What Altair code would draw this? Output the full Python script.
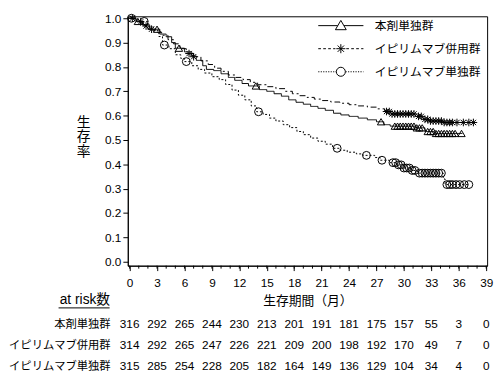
import altair as alt
import pandas as pd
import numpy as np

FONT = "Liberation Sans, Noto Sans CJK JP"

groups = ["本剤単独群", "イピリムマブ併用群", "イピリムマブ単独群"]

# Kaplan-Meier curves: times of drops and the survival after each drop
t_a = [0, 0.7, 1.5, 2.2, 3.3, 4.0, 4.6, 5.0, 6.0, 6.8, 7.3, 8.0, 8.4, 9.2, 10.0, 10.8, 11.5, 12.3, 13.0,
       14.2, 15.0, 15.8, 16.6, 17.4, 18.2, 19.0, 19.8, 20.6, 21.4, 22.3, 23.1, 24.0, 25.0, 26.0, 27.0,
       27.8, 28.5, 31.2, 32.3, 33.3, 36.4]
s_a = [1.0, 0.987, 0.973, 0.955, 0.935, 0.924, 0.90, 0.877, 0.862, 0.845, 0.827, 0.805, 0.79, 0.785,
       0.772, 0.757, 0.745, 0.732, 0.722, 0.707, 0.70, 0.69, 0.68, 0.665, 0.655, 0.647, 0.638, 0.63,
       0.622, 0.61, 0.603, 0.597, 0.59, 0.583, 0.575, 0.563, 0.557, 0.55, 0.535, 0.527, 0.527]

t_b = [0, 0.8, 1.4, 2.0, 2.8, 3.5, 4.2, 4.8, 5.5, 6.2, 7.0, 7.8, 8.6, 9.3, 10.0, 10.8, 11.6, 12.4,
       13.2, 14.0, 15.0, 16.0, 17.0, 17.8, 18.6, 19.4, 20.2, 21.0, 22.0, 23.0, 24.0, 25.0, 26.0, 27.0,
       27.9, 28.7, 31.4, 32.1, 32.7, 34.3, 37.8]
s_b = [1.0, 0.985, 0.968, 0.955, 0.943, 0.93, 0.912, 0.895, 0.875, 0.855, 0.842, 0.825, 0.81, 0.795,
       0.782, 0.767, 0.757, 0.748, 0.737, 0.727, 0.719, 0.711, 0.70, 0.69, 0.682, 0.675, 0.668, 0.662,
       0.656, 0.651, 0.645, 0.64, 0.635, 0.628, 0.617, 0.607, 0.597, 0.585, 0.578, 0.572, 0.572]

t_c = [0, 0.6, 1.0, 2.0, 2.6, 3.2, 3.6, 4.3, 5.0, 5.6, 6.0, 6.8, 7.5, 8.2, 9.0, 9.8, 10.5, 11.2, 11.9,
       12.6, 13.3, 13.9, 14.6, 15.3, 16.0, 16.8, 17.5, 18.3, 19.0, 19.8, 20.6, 21.4, 22.2, 23.0, 23.8,
       24.8, 25.5, 26.8, 27.4, 28.4, 29.2, 30.0, 30.8, 31.5, 34.3, 34.5, 37.1]
s_c = [1.0, 0.993, 0.987, 0.965, 0.95, 0.925, 0.89, 0.875, 0.85, 0.835, 0.822, 0.805, 0.79, 0.775,
       0.76, 0.748, 0.728, 0.705, 0.684, 0.665, 0.64, 0.616, 0.605, 0.59, 0.578, 0.563, 0.551, 0.535,
       0.522, 0.508, 0.495, 0.483, 0.466, 0.458, 0.45, 0.443, 0.437, 0.428, 0.417, 0.407, 0.398, 0.385,
       0.375, 0.364, 0.34, 0.317, 0.317]

# censoring times
cens_a = [0.9, 3.0, 5.4, 13.8, 27.5, 29.0, 29.3, 29.6, 29.9, 30.2, 30.5, 30.8, 31.1, 31.4, 31.7, 32.0,
          32.6, 32.9, 33.2, 33.5, 33.8, 34.1, 34.4, 34.7, 35.0, 35.3, 35.6, 36.3]
cens_b = [0.3, 1.2, 1.8, 2.4, 6.5, 7.0, 28.1, 28.4, 28.7, 29.0, 29.3, 29.6, 29.9, 30.2, 30.5, 30.8,
          31.1, 31.6, 31.9, 32.3, 32.6, 32.9, 33.2, 33.5, 33.8, 34.1, 34.4, 34.7, 35.0, 35.3, 35.8,
          36.5, 37.1, 37.6]
cens_c = [0.2, 1.6, 3.8, 6.2, 14.1, 22.7, 25.9, 27.6, 28.8, 29.1, 29.4, 29.7, 30.0, 30.3, 30.6, 30.9,
          31.2, 31.7, 32.0, 32.3, 32.6, 32.9, 33.2, 33.5, 33.8, 34.1, 34.7, 35.0, 35.3, 35.7, 36.1,
          36.6, 37.1]

# number at risk
risk_times = [0, 3, 6, 9, 12, 15, 18, 21, 24, 27, 30, 33, 36, 39]
risk_a = [316, 292, 265, 244, 230, 213, 201, 191, 181, 175, 157, 55, 3, 0]
risk_b = [314, 292, 265, 247, 226, 221, 209, 200, 198, 192, 170, 49, 7, 0]
risk_c = [315, 285, 254, 228, 205, 182, 164, 149, 136, 129, 104, 34, 4, 0]

x_ticks = [0, 3, 6, 9, 12, 15, 18, 21, 24, 27, 30, 33, 36, 39]
x_minor = list(range(0, 40))
y_ticks = [0.0, 0.1, 0.2, 0.3, 0.4, 0.5, 0.6, 0.7, 0.8, 0.9, 1.0]

curves = [(t_a, s_a), (t_b, s_b), (t_c, s_c)]
censors = [cens_a, cens_b, cens_c]
risks = [risk_a, risk_b, risk_c]

curve_df = pd.concat([pd.DataFrame({"group": g, "time": t, "surv": s})
                      for g, (t, s) in zip(groups, curves)], ignore_index=True)

cens_rows = []
for g, (t, s), cs in zip(groups, curves, censors):
    idx = np.searchsorted(np.array(t), np.array(cs), side="right") - 1
    cens_rows.append(pd.DataFrame({"group": g, "time": cs, "surv": np.array(s)[idx]}))
cens_df = pd.concat(cens_rows, ignore_index=True)

risk_df = pd.concat([pd.DataFrame({"group": g, "time": risk_times, "n": r})
                     for g, r in zip(groups, risks)], ignore_index=True)

minor_df = pd.DataFrame({"m": x_minor})

# ---------- styles ----------
PLOT_W, PLOT_H = 366, 254
X_TITLE = "生存期間（月）"
Y_TITLE = ["生", "存", "率"]
xscale = alt.Scale(domain=[-0.2, 39.1], nice=False, zero=False)
yscale = alt.Scale(domain=[-0.016, 1.008], nice=False, zero=False)

ASTER = "M0,-1L0,1M-1,0L1,0M-0.7,-0.7L0.7,0.7M-0.7,0.7L0.7,-0.7"
plot_shapes = ["triangle-up", ASTER, "circle"]
plot_sizes = [55, 60, 64]
line_dashes = [[1, 0], [6, 3, 2, 3], [2, 2]]


def segs(pattern, start, end):
    out, pos, k = [], start, 0
    while pos < end - 1e-9:
        ln = pattern[k % 2]
        if k % 2 == 0:
            e = min(pos + ln, end)
            out.append((pos, e))
        pos += ln
        k += 1
    return out


def line_path(pattern, inner):
    parts = []
    for a, b in segs(pattern, -1, -inner):
        parts.append(f"M{a:.3f},0L{b:.3f},0")
    for a, b in segs(pattern, inner, 1):
        parts.append(f"M{a:.3f},0L{b:.3f},0")
    return "".join(parts)


leg_a = line_path([2, 0], 0.14) + "M0,-0.23L0.24,0.18L-0.24,0.18Z"
leg_b = line_path([0.12, 0.1], 0.24) + ("M0,-0.2L0,0.2M-0.2,0L0.2,0M-0.14,-0.14L0.14,0.14"
                                         "M-0.14,0.14L0.14,-0.14")
leg_c = line_path([0.05, 0.06], 0.21) + "M0.2,0A0.2,0.2,0,1,1,-0.2,0A0.2,0.2,0,1,1,0.2,0Z"

x_axis = alt.Axis(values=x_ticks, tickSize=5, labelPadding=7, labelFontSize=12,
                  labelFlush=False, labelOverlap=False, labelBound=False,
                  titleFontSize=13, titlePadding=7, grid=False)
y_axis = alt.Axis(values=y_ticks, format=".1f", tickSize=5, labelPadding=2, labelFontSize=12,
                  labelOverlap=False,
                  title=Y_TITLE, titleAngle=0, titleX=-45.5, titleY=108,
                  titleAlign="center", titleBaseline="middle", titleLineHeight=15,
                  titleFontSize=14, grid=False)


def X(field):
    return alt.X(field, scale=xscale, axis=x_axis, title=X_TITLE)


def Y(field):
    return alt.Y(field, scale=yscale, axis=y_axis, title=Y_TITLE)


layers = []
for g, dash in zip(groups, line_dashes):
    layers.append(
        alt.Chart(curve_df[curve_df["group"] == g]).mark_line(
            interpolate="step-after", strokeWidth=1, color="black", strokeDash=dash
        ).encode(x=X("time:Q"), y=Y("surv:Q"))
    )

layers.append(alt.Chart(minor_df).mark_rule(color="black", strokeWidth=1).encode(
    x=X("m:Q"), y=alt.value(PLOT_H), y2=alt.value(PLOT_H + 3)
))

for g, shp, sz in zip(groups, plot_shapes, plot_sizes):
    layers.append(
        alt.Chart(cens_df[cens_df["group"] == g]).mark_point(
            shape=shp, filled=False, color="black", size=sz, strokeWidth=1, opacity=1
        ).encode(x=X("time:Q"), y=Y("surv:Q"))
    )

# legend-only layer: its points sit outside the x domain and are clipped away
layers.append(alt.Chart(cens_df).transform_calculate(off="-100").mark_point(
    filled=False, color="black", opacity=1, clip=True
).encode(
    x=X("off:Q"), y=Y("surv:Q"),
    shape=alt.Shape("group:N", scale=alt.Scale(domain=groups, range=[leg_a, leg_b, leg_c]),
                    legend=alt.Legend(title=None, orient="none", legendX=193.5, legendY=3,
                                      symbolSize=2116, symbolStrokeWidth=1,
                                      symbolStrokeColor="black", symbolFillColor="transparent",
                                      clipHeight=13, rowPadding=10.5,
                                      labelFontSize=12, labelOffset=11,
                                      padding=0, labelFont=FONT, labelColor="black")),
))

main = alt.layer(*layers).properties(width=PLOT_W, height=PLOT_H)

table_text = alt.Chart(risk_df).mark_text(fontSize=12, font=FONT, color="black").encode(
    x=alt.X("time:Q", scale=xscale, axis=None),
    y=alt.Y("group:N", sort=groups, scale=alt.Scale(paddingInner=0, paddingOuter=0),
            axis=alt.Axis(title="at risk数", titleAngle=0, titleX=-18.5, titleY=-14,
                          titleAlign="right", titleBaseline="middle", titleFontSize=14,
                          labelFontSize=11.5, labelPadding=18, ticks=False, domain=False)),
    text="n:Q",
)
underline = alt.Chart(pd.DataFrame({"k": [0]})).mark_rule(color="black", strokeWidth=1).encode(
    x=alt.value(-70.5), x2=alt.value(-18.5), y=alt.value(-6)
)
table = alt.layer(table_text, underline).properties(
    width=PLOT_W, height=64.5, view=alt.ViewBackground(stroke="transparent")
)

chart = alt.vconcat(main, table, spacing=49, bounds="flush").properties(
    padding={"left": 0, "top": 0, "right": 0, "bottom": 0}
).configure(font=FONT).configure_view(stroke="black", strokeWidth=1).configure_axis(
    labelFont=FONT, titleFont=FONT, titleFontWeight="normal", domainColor="black",
    tickColor="black", labelColor="black", titleColor="black"
)

chart.save("out.html", embed_options={"renderer": "svg", "actions": False})
